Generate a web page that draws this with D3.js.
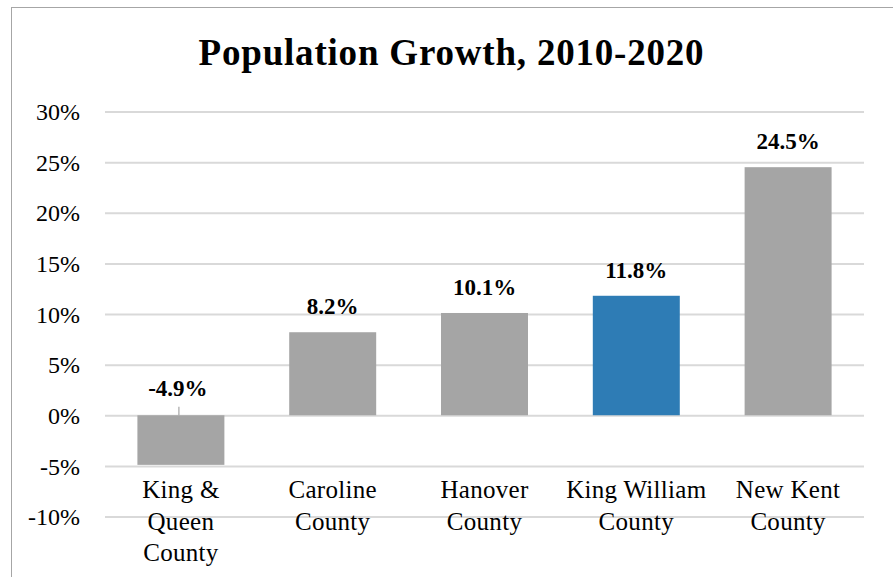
<!DOCTYPE html>
<html>
<head>
<meta charset="utf-8">
<script src="https://cdn.jsdelivr.net/npm/d3@7/dist/d3.min.js"></script>
<style>
  html, body { margin: 0; padding: 0; background: #fff; }
  svg { display: block; }
  text { font-family: "Liberation Serif", "Times New Roman", serif; fill: #000; }
</style>
</head>
<body>
<svg id="chart" width="893" height="577"></svg>
<script>
// Population growth by county, 2010-2020 (percent)
const categories = [
  ["King &", "Queen", "County"],
  ["Caroline", "County"],
  ["Hanover", "County"],
  ["King William", "County"],
  ["New Kent", "County"]
];
const growth = [-4.9, 8.2, 10.1, 11.8, 24.5];
const highlight = [false, false, false, true, false];
const yTicks = [-10, -5, 0, 5, 10, 15, 20, 25, 30];
const titleText = "Population Growth, 2010-2020";

const svg = d3.select("#chart");
const W = 893, H = 577;
const plot = { left: 105, right: 864, top: 111.5, bottom: 516.5 };

// outer chart frame (clipped on the right and bottom)
svg.append("rect")
  .attr("x", 11.5).attr("y", 7.5)
  .attr("width", W + 10).attr("height", H + 10)
  .attr("fill", "#fff")
  .attr("stroke", "#a6a6a6").attr("stroke-width", 1);

const x = d3.scaleBand()
  .domain(d3.range(categories.length))
  .range([plot.left, plot.right])
  .paddingInner(0.427)
  .paddingOuter(0.2135);

const y = d3.scaleLinear()
  .domain([-10, 30])
  .range([plot.bottom, plot.top]);

// horizontal gridlines and y labels
const yAxis = d3.axisLeft(y)
  .tickValues(yTicks)
  .tickSize(-(plot.right - plot.left))
  .tickPadding(25)
  .tickFormat(d => d + "%");

const gy = svg.append("g")
  .attr("transform", `translate(${plot.left},0)`)
  .call(yAxis);
gy.select(".domain").remove();
gy.selectAll(".tick line").attr("stroke", "#d9d9d9").attr("stroke-width", 2);
gy.selectAll(".tick text")
  .attr("font-size", 24)
  .attr("font-family", "Liberation Serif, serif")
  .attr("fill", "#000")
  .attr("dy", "0.34em");

// bars
svg.append("g").selectAll("rect")
  .data(growth)
  .join("rect")
  .attr("x", (d, i) => x(i))
  .attr("width", x.bandwidth())
  .attr("y", d => y(Math.max(0, d)))
  .attr("height", d => Math.abs(y(d) - y(0)))
  .attr("fill", (d, i) => highlight[i] ? "#2e7cb5" : "#a5a5a5");

// value labels
const labels = svg.append("g");
growth.forEach((d, i) => {
  const cx = x(i) + x.bandwidth() / 2;
  if (d >= 0) {
    labels.append("text")
      .attr("x", cx).attr("y", y(d) - 18)
      .attr("text-anchor", "middle")
      .attr("font-size", 23).attr("font-weight", "bold")
      .text(d.toFixed(1) + "%");
  } else {
    // negative value: label sits above the baseline with a short leader line
    labels.append("line")
      .attr("x1", cx - 2).attr("x2", cx - 2)
      .attr("y1", y(0) - 8.5).attr("y2", y(0))
      .attr("stroke", "#a5a5a5").attr("stroke-width", 1.2);
    labels.append("text")
      .attr("x", cx - 3).attr("y", y(0) - 19)
      .attr("text-anchor", "middle")
      .attr("font-size", 23).attr("font-weight", "bold")
      .text(d.toFixed(1) + "%");
  }
});

// category labels
const cats = svg.append("g");
categories.forEach((lines, i) => {
  const t = cats.append("text")
    .attr("x", x(i) + x.bandwidth() / 2)
    .attr("y", 498)
    .attr("text-anchor", "middle")
    .attr("font-size", 25)
    .attr("letter-spacing", 0.3);
  lines.forEach((s, k) => {
    t.append("tspan")
      .attr("x", x(i) + x.bandwidth() / 2)
      .attr("dy", k === 0 ? 0 : 31.5)
      .text(s);
  });
});

// title
svg.append("text")
  .attr("x", 451.5).attr("y", 65)
  .attr("text-anchor", "middle")
  .attr("font-size", 37).attr("font-weight", "bold")
  .attr("letter-spacing", 0.8)
  .text(titleText);
</script>
</body>
</html>
